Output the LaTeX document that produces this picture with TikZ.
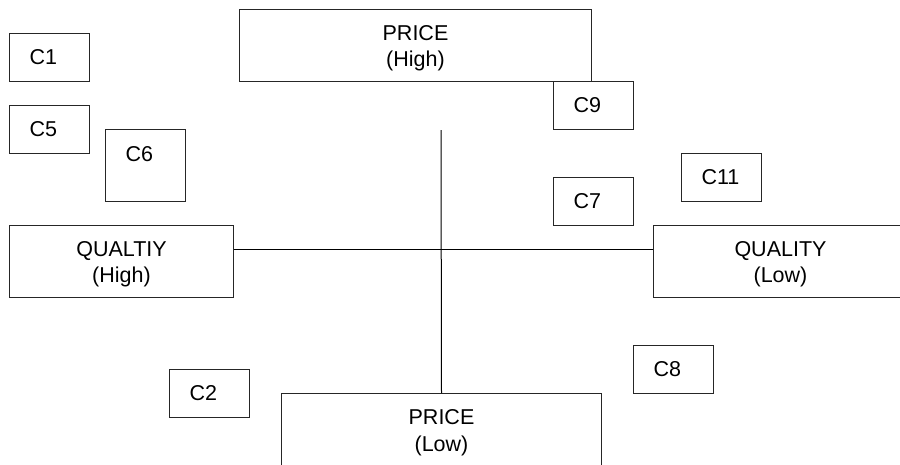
\documentclass[tikz,border=0pt]{standalone}
\usepackage{fontspec}
\setmainfont{Liberation Sans}
\newcommand{\topstrut}{\rule{0pt}{20pt}}
\begin{document}
\begin{tikzpicture}[x=1pt,y=-1pt,
  every node/.style={font=\fontsize{21.5}{26.5}\selectfont},
  bigbox/.style={draw=black!85, line width=1pt, anchor=north west, align=center, inner sep=0pt},
  cbox/.style={draw=black!85, line width=1pt, anchor=north west, minimum width=80pt, minimum height=48pt,
    text width=80pt, inner xsep=0pt, inner ysep=0pt, align=left},
  axis/.style={draw=black, line width=1pt}]
\clip (0,0) rectangle (900,464);
\useasboundingbox (0,0) rectangle (900,464);
\node[bigbox, minimum width=352pt, minimum height=72pt] (phigh) at (239,9) {\topstrut PRICE\\(High)};
\node[bigbox, minimum width=320pt, minimum height=73pt] (plow) at (281,393) {\topstrut PRICE\\(Low)};
\node[bigbox, minimum width=224pt, minimum height=72pt] (qh) at (9,225) {\topstrut QUALTIY\\(High)};
\node[bigbox, minimum width=254pt, minimum height=72pt] (ql) at (653,225) {\topstrut QUALITY\\(Low)};
\node[cbox] (c1) at (9,33) {\hspace*{20pt}C1};
\node[cbox] (c5) at (9,105) {\hspace*{20pt}C5};
\node[cbox, minimum height=72pt, text height=32pt, text depth=40pt] (c6) at (105,129) {\hspace*{20pt}C6};
\node[cbox] (c9) at (553,81) {\hspace*{20pt}C9};
\node[cbox] (c7) at (553,177) {\hspace*{20pt}C7};
\node[cbox] (c11) at (681,153) {\hspace*{20pt}C11};
\node[cbox] (c2) at (169,369) {\hspace*{20pt}C2};
\node[cbox] (c8) at (633,345) {\hspace*{20pt}C8};
\coordinate (vtop) at (441,130);
\coordinate (cross) at (441,249);
\draw[axis] (vtop) -- (plow.north);
\draw[axis] (qh.east |- cross) -- (ql.west |- cross);
\end{tikzpicture}
\end{document}
